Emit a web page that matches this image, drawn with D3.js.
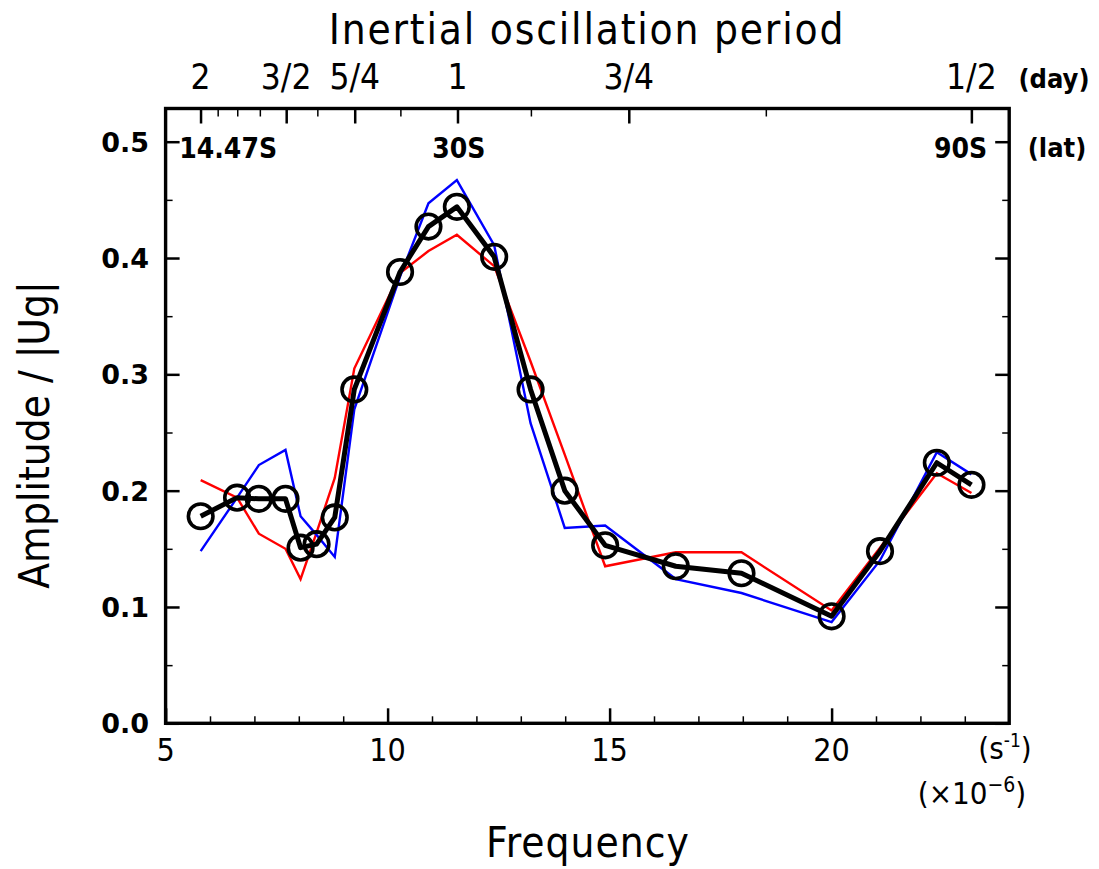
<!DOCTYPE html>
<html>
<head>
<meta charset="utf-8">
<script src="https://cdn.jsdelivr.net/npm/d3@7"></script>
<style>
  html, body { margin: 0; padding: 0; background: #fff; }
  svg { display: block; }
  .narrow { font-family: "Liberation Sans Narrow", "DejaVu Sans Condensed", "Liberation Sans", sans-serif; }
</style>
</head>
<body>
<svg id="chart" width="1099" height="869"></svg>
<script>
// ---- data ----
const frequency = [5.79, 6.61, 7.10, 7.70, 8.04, 8.40, 8.81, 9.25, 10.28, 10.92, 11.56, 12.40, 13.22, 13.99, 14.90, 16.49, 17.97, 20.00, 21.09, 22.37, 23.15];
const ampBlack  = [0.178, 0.194, 0.193, 0.193, 0.151, 0.154, 0.177, 0.287, 0.388, 0.427, 0.444, 0.401, 0.287, 0.200, 0.153, 0.135, 0.129, 0.092, 0.148, 0.224, 0.205];
const ampRed    = [0.209, 0.194, 0.163, 0.150, 0.124, 0.164, 0.211, 0.305, 0.387, 0.406, 0.420, 0.393, 0.311, 0.231, 0.135, 0.147, 0.147, 0.097, 0.151, 0.215, 0.198];
const ampBlue   = [0.148, 0.194, 0.222, 0.235, 0.178, 0.162, 0.143, 0.270, 0.384, 0.447, 0.467, 0.411, 0.258, 0.168, 0.170, 0.124, 0.112, 0.087, 0.140, 0.233, 0.214];

const yTicks = [0.0, 0.1, 0.2, 0.3, 0.4, 0.5];
const yMinorTicks = [0.05, 0.15, 0.25, 0.35, 0.45];
const xTicks = [5, 10, 15, 20];
const xMinorTicks = [6, 7, 8, 9, 11, 12, 13, 14, 16, 17, 18, 19, 21, 22, 23];

const periodMajor = [2, 1.5, 1.25, 1, 0.75, 0.5];
const periodMajorLabels = ["2", "3/2", "5/4", "1", "3/4", "1/2"];
const periodMinor = [1.875, 1.75, 1.625, 1.375, 1.125, 0.875, 0.625];
const latValues = [14.4775, 30, 90];
const latLabels = ["14.47S", "30S", "90S"];

// ---- layout ----
const svg = d3.select("#chart");
const X0 = 165.6, X1 = 1009.2, YB = 723.3, YT = 108.5;
const x = d3.scaleLinear().domain([5, 24]).range([X0, X1]);
const y = d3.scaleLinear().domain([0, 0.5]).range([YB, 141.7]);
const periodToFreq = p => 1e6 / (p * 86400);
const latToFreq = lat => 2 * (2 * Math.PI / 86164) * Math.sin(lat * Math.PI / 180) / (2 * Math.PI) * 1e6;

// series lines
const line = d3.line().x((d, i) => x(frequency[i])).y(d => y(d));
svg.append("path").datum(ampRed).attr("d", line)
  .attr("fill", "none").attr("stroke", "#ff0000").attr("stroke-width", 2.4).attr("stroke-linejoin", "miter");
svg.append("path").datum(ampBlue).attr("d", line)
  .attr("fill", "none").attr("stroke", "#0000ff").attr("stroke-width", 2.4).attr("stroke-linejoin", "miter");
svg.append("path").datum(ampBlack).attr("d", line)
  .attr("fill", "none").attr("stroke", "#000").attr("stroke-width", 5).attr("stroke-linejoin", "round");
svg.append("g").selectAll("circle").data(ampBlack).join("circle")
  .attr("cx", (d, i) => x(frequency[i])).attr("cy", d => y(d)).attr("r", 12.3)
  .attr("fill", "none").attr("stroke", "#000").attr("stroke-width", 3.6);

// ---- axes (ticks inside) ----
const frame = svg.append("g");
frame.append("g").attr("transform", `translate(0,${YB})`)
  .call(d3.axisBottom(x).tickValues(xTicks).tickSize(-15).tickFormat(""))
  .call(g => { g.select(".domain").remove(); g.selectAll("line").attr("stroke-width", 2.5); });
frame.append("g").attr("transform", `translate(0,${YB})`)
  .call(d3.axisBottom(x).tickValues(xMinorTicks).tickSize(-7).tickFormat(""))
  .call(g => { g.select(".domain").remove(); g.selectAll("line").attr("stroke-width", 1.5); });
frame.append("g").attr("transform", `translate(${X0},0)`)
  .call(d3.axisLeft(y).tickValues(yTicks).tickSize(-14).tickFormat(""))
  .call(g => { g.select(".domain").remove(); g.selectAll("line").attr("stroke-width", 2.5); });
frame.append("g").attr("transform", `translate(${X0},0)`)
  .call(d3.axisLeft(y).tickValues(yMinorTicks).tickSize(-7).tickFormat(""))
  .call(g => { g.select(".domain").remove(); g.selectAll("line").attr("stroke-width", 1.5); });
frame.append("g").attr("transform", `translate(${X1},0)`)
  .call(d3.axisRight(y).tickValues(yTicks).tickSize(-14).tickFormat(""))
  .call(g => { g.select(".domain").remove(); g.selectAll("line").attr("stroke-width", 2.5); });
frame.append("g").attr("transform", `translate(${X1},0)`)
  .call(d3.axisRight(y).tickValues(yMinorTicks).tickSize(-7).tickFormat(""))
  .call(g => { g.select(".domain").remove(); g.selectAll("line").attr("stroke-width", 1.5); });
frame.append("g").attr("transform", `translate(0,${YT})`)
  .call(d3.axisTop(x).tickValues(periodMajor.map(periodToFreq)).tickSize(-15).tickFormat(""))
  .call(g => { g.select(".domain").remove(); g.selectAll("line").attr("stroke-width", 2.5); });
frame.append("g").attr("transform", `translate(0,${YT})`)
  .call(d3.axisTop(x).tickValues(periodMinor.map(periodToFreq)).tickSize(-8).tickFormat(""))
  .call(g => { g.select(".domain").remove(); g.selectAll("line").attr("stroke-width", 1.5); });
frame.append("rect").attr("x", X0).attr("y", YT).attr("width", X1 - X0).attr("height", YB - YT)
  .attr("fill", "none").attr("stroke", "#000").attr("stroke-width", 3.4);

// ---- labels ----
svg.append("g").selectAll("text").data(yTicks).join("text")
  .attr("x", 149).attr("y", d => y(d) + 10).attr("text-anchor", "end")
  .attr("font-family", "DejaVu Sans, sans-serif").attr("font-weight", "bold").attr("font-size", 27)
  .text(d => d.toFixed(1));
svg.append("g").selectAll("text").data(xTicks).join("text").attr("class", "narrow")
  .attr("x", d => x(d)).attr("y", 761).attr("text-anchor", "middle")
  .attr("font-size", 32).text(d => d);
svg.append("g").selectAll("text").data(periodMajor).join("text").attr("class", "narrow")
  .attr("x", d => x(periodToFreq(d))).attr("y", 89).attr("text-anchor", "middle")
  .attr("font-size", 35).text((d, i) => periodMajorLabels[i]);
const latAnchor = ["start", "middle", "end"];
const latOffset = [-22, 0, 13];
svg.append("g").selectAll("text").data(latValues).join("text").attr("class", "narrow")
  .attr("x", (d, i) => x(latToFreq(d)) + latOffset[i]).attr("y", 158)
  .attr("text-anchor", (d, i) => latAnchor[i])
  .attr("font-weight", "bold").attr("font-size", 28).text((d, i) => latLabels[i]);

svg.append("text").attr("class", "narrow").attr("x", 1054).attr("y", 88).attr("text-anchor", "middle")
  .attr("font-weight", "bold").attr("font-size", 27).text("(day)");
svg.append("text").attr("class", "narrow").attr("x", 1057).attr("y", 157).attr("text-anchor", "middle")
  .attr("font-weight", "bold").attr("font-size", 27).text("(lat)");

svg.append("text").attr("class", "narrow").attr("x", 587).attr("y", 44).attr("text-anchor", "middle")
  .attr("font-size", 42).attr("letter-spacing", 1.8).text("Inertial oscillation period");
svg.append("text").attr("class", "narrow").attr("x", 588).attr("y", 857).attr("text-anchor", "middle")
  .attr("font-size", 42).attr("letter-spacing", 1).text("Frequency");
svg.append("text").attr("class", "narrow")
  .attr("transform", "translate(49,435) rotate(-90)").attr("text-anchor", "middle")
  .attr("font-size", 42).text("Amplitude / |Ug|");

const u1 = svg.append("text").attr("class", "narrow").attr("x", 1005).attr("y", 759)
  .attr("text-anchor", "middle").attr("font-size", 31);
u1.append("tspan").text("(s");
u1.append("tspan").attr("font-size", 19).attr("dy", -12).text("-1");
u1.append("tspan").attr("dy", 12).text(")");
const u2 = svg.append("text").attr("class", "narrow").attr("x", 972).attr("y", 804)
  .attr("text-anchor", "middle").attr("font-size", 31);
u2.append("tspan").text("(×10");
u2.append("tspan").attr("font-size", 21).attr("dy", -12).text("−6");
u2.append("tspan").attr("dy", 12).text(")");
</script>
</body>
</html>
